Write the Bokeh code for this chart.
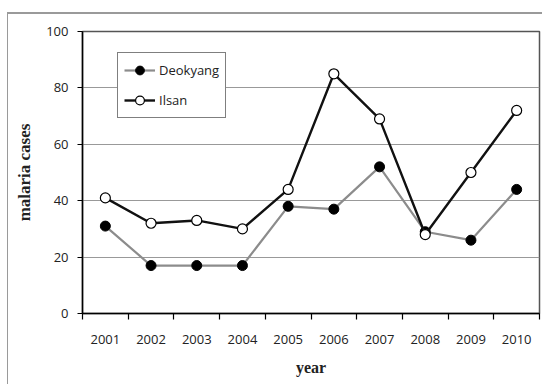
from bokeh.plotting import figure
from bokeh.models import Range1d, FixedTicker, Legend, LegendItem, InlineStyleSheet
from bokeh.embed import file_html
from bokeh.resources import INLINE

years = [2001, 2002, 2003, 2004, 2005, 2006, 2007, 2008, 2009, 2010]
deokyang = [31, 17, 17, 17, 38, 37, 52, 29, 26, 44]
ilsan = [41, 32, 33, 30, 44, 85, 69, 28, 50, 72]
y_ticks = [0, 20, 40, 60, 80, 100]
boundaries = [y - 0.5 for y in years] + [years[-1] + 0.5]

W, H = 543, 384
p = figure(width=W, height=H, output_backend="svg", toolbar_location=None,
           x_range=Range1d(years[0] - 0.5, years[-1] + 0.5), y_range=Range1d(0, 100),
           min_border_left=82, min_border_right=4, min_border_top=31, min_border_bottom=71)

# outer picture frame (top and left rules) drawn by CSS over the canvas
p.stylesheets = [InlineStyleSheet(css="""
:host { position: relative; }
:host::before { content: ""; position: absolute; left: 7px; top: 12px; width: 535px; height: 2px;
                background: #9a9a9a; z-index: 100; pointer-events: none; }
:host::after { content: ""; position: absolute; left: 7px; top: 13px; width: 1px; height: 371px;
               background: #9a9a9a; z-index: 100; pointer-events: none; }
""")]

p.outline_line_color = "#555555"
p.outline_line_width = 1.5
p.xgrid.visible = False
p.ygrid.ticker = FixedTicker(ticks=y_ticks)
p.ygrid.grid_line_color = "#999999"
p.ygrid.grid_line_width = 1

p.xaxis.ticker = FixedTicker(ticks=years, minor_ticks=boundaries)
p.xaxis.major_tick_line_color = None
p.xaxis.minor_tick_in = 0
p.xaxis.minor_tick_out = 6
p.xaxis.minor_tick_line_color = "black"
p.xaxis.minor_tick_line_width = 1.2
p.xaxis.major_label_standoff = 15
p.xaxis.axis_label = "year"
p.xaxis.axis_label_standoff = 12

p.yaxis.ticker = FixedTicker(ticks=y_ticks)
p.yaxis.minor_tick_line_color = None
p.yaxis.major_tick_in = 0
p.yaxis.major_tick_out = 5
p.yaxis.major_label_standoff = 9
p.yaxis.axis_label = "malaria cases"
p.yaxis.axis_label_standoff = 9

for ax in (p.xaxis, p.yaxis):
    ax.axis_line_color = "black"
    ax.axis_line_width = 1.5
    ax.major_tick_line_width = 1.2
    ax.major_label_text_font = "Open Sans"
    ax.major_label_text_font_size = "13px"
    ax.major_label_text_color = "#222222"
    ax.axis_label_text_font = "Liberation Serif"
    ax.axis_label_text_font_style = "bold"
    ax.axis_label_text_color = "#222222"
p.xaxis.axis_label_text_font_size = "16px"
p.yaxis.axis_label_text_font_size = "17px"

l1 = p.line(years, deokyang, line_color="#8c8c8c", line_width=2.2)
m1 = p.scatter(years, deokyang, size=10, fill_color="black", line_color="black")
l2 = p.line(years, ilsan, line_color="#111111", line_width=2.4)
m2 = p.scatter(years, ilsan, size=10, fill_color="white", line_color="black", line_width=1.2)

legend = Legend(items=[LegendItem(label="Deokyang", renderers=[l1, m1]),
                       LegendItem(label="Ilsan", renderers=[l2, m2])],
                location=(35, 195), padding=6, spacing=8, glyph_width=31, glyph_height=22,
                label_height=22, label_standoff=4, margin=0,
                border_line_color="black", border_line_width=1,
                label_text_font="Open Sans", label_text_font_size="13px",
                label_text_color="#222222", background_fill_alpha=1)
p.add_layout(legend)

open("out.html", "w").write(file_html(p, INLINE))
